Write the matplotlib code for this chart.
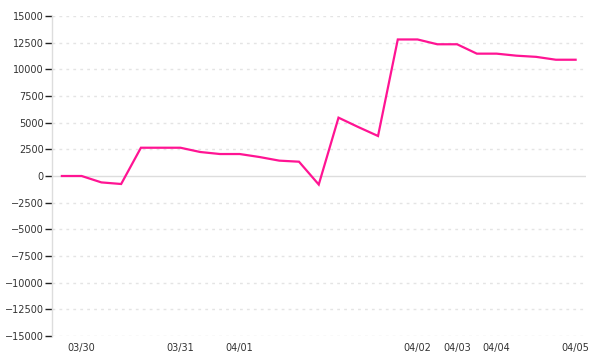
import matplotlib
matplotlib.use('Agg')
import matplotlib.pyplot as plt
import numpy as np

# valores (uno por punto)
valores = [0, 0, -600, -750, 2650, 2650, 2650, 2250, 2060, 2060,
           1780, 1440, 1340, -800, 5470, 4590, 3750, 12800, 12800, 12350,
           12350, 11470, 11470, 11280, 11170, 10900, 10900]
etiquetas_x = ['', '03/30', '', '', '', '', '03/31', '', '', '04/01',
               '', '', '', '', '', '', '', '', '04/02', '',
               '04/03', '', '04/04', '', '', '', '04/05']
ticks_y = [-15000, -12500, -10000, -7500, -5000, -2500, 0,
           2500, 5000, 7500, 10000, 12500, 15000]

fig = plt.figure(figsize=(6, 3.6), dpi=100)
ax = fig.add_axes([52 / 600, 24 / 360, 533.5 / 600, 320 / 360])

x = np.arange(len(valores))
ax.plot(x, valores, color='#ff1493', linewidth=1.6, solid_joinstyle='miter', zorder=3)

ax.set_xlim(-0.5, len(valores) - 0.5)
ax.set_ylim(-15000, 15000)

# rejilla punteada y linea del cero
for t in ticks_y:
    if t == 0:
        ax.axhline(0, color='#dddddd', linewidth=1, zorder=1)
    else:
        ax.axhline(t, color='#e4e4e4', linewidth=1, linestyle=(0, (2, 3)), zorder=1)

ax.set_yticks(ticks_y)
ax.set_yticklabels([str(t).replace('-', '\u2212') for t in ticks_y])
pos = [i for i, e in enumerate(etiquetas_x) if e]
ax.set_xticks(pos)
ax.set_xticklabels([etiquetas_x[i] for i in pos])

ax.tick_params(axis='y', length=5, width=1, color='#222222', labelsize=7,
               labelcolor='#333333', pad=1)
ax.tick_params(axis='x', length=0, labelsize=7, labelcolor='#333333', pad=5)

for s in ['top', 'right', 'bottom']:
    ax.spines[s].set_visible(False)
ax.spines['left'].set_color('#dddddd')
ax.spines['left'].set_linewidth(1)

fig.savefig('out.png', dpi=100)
